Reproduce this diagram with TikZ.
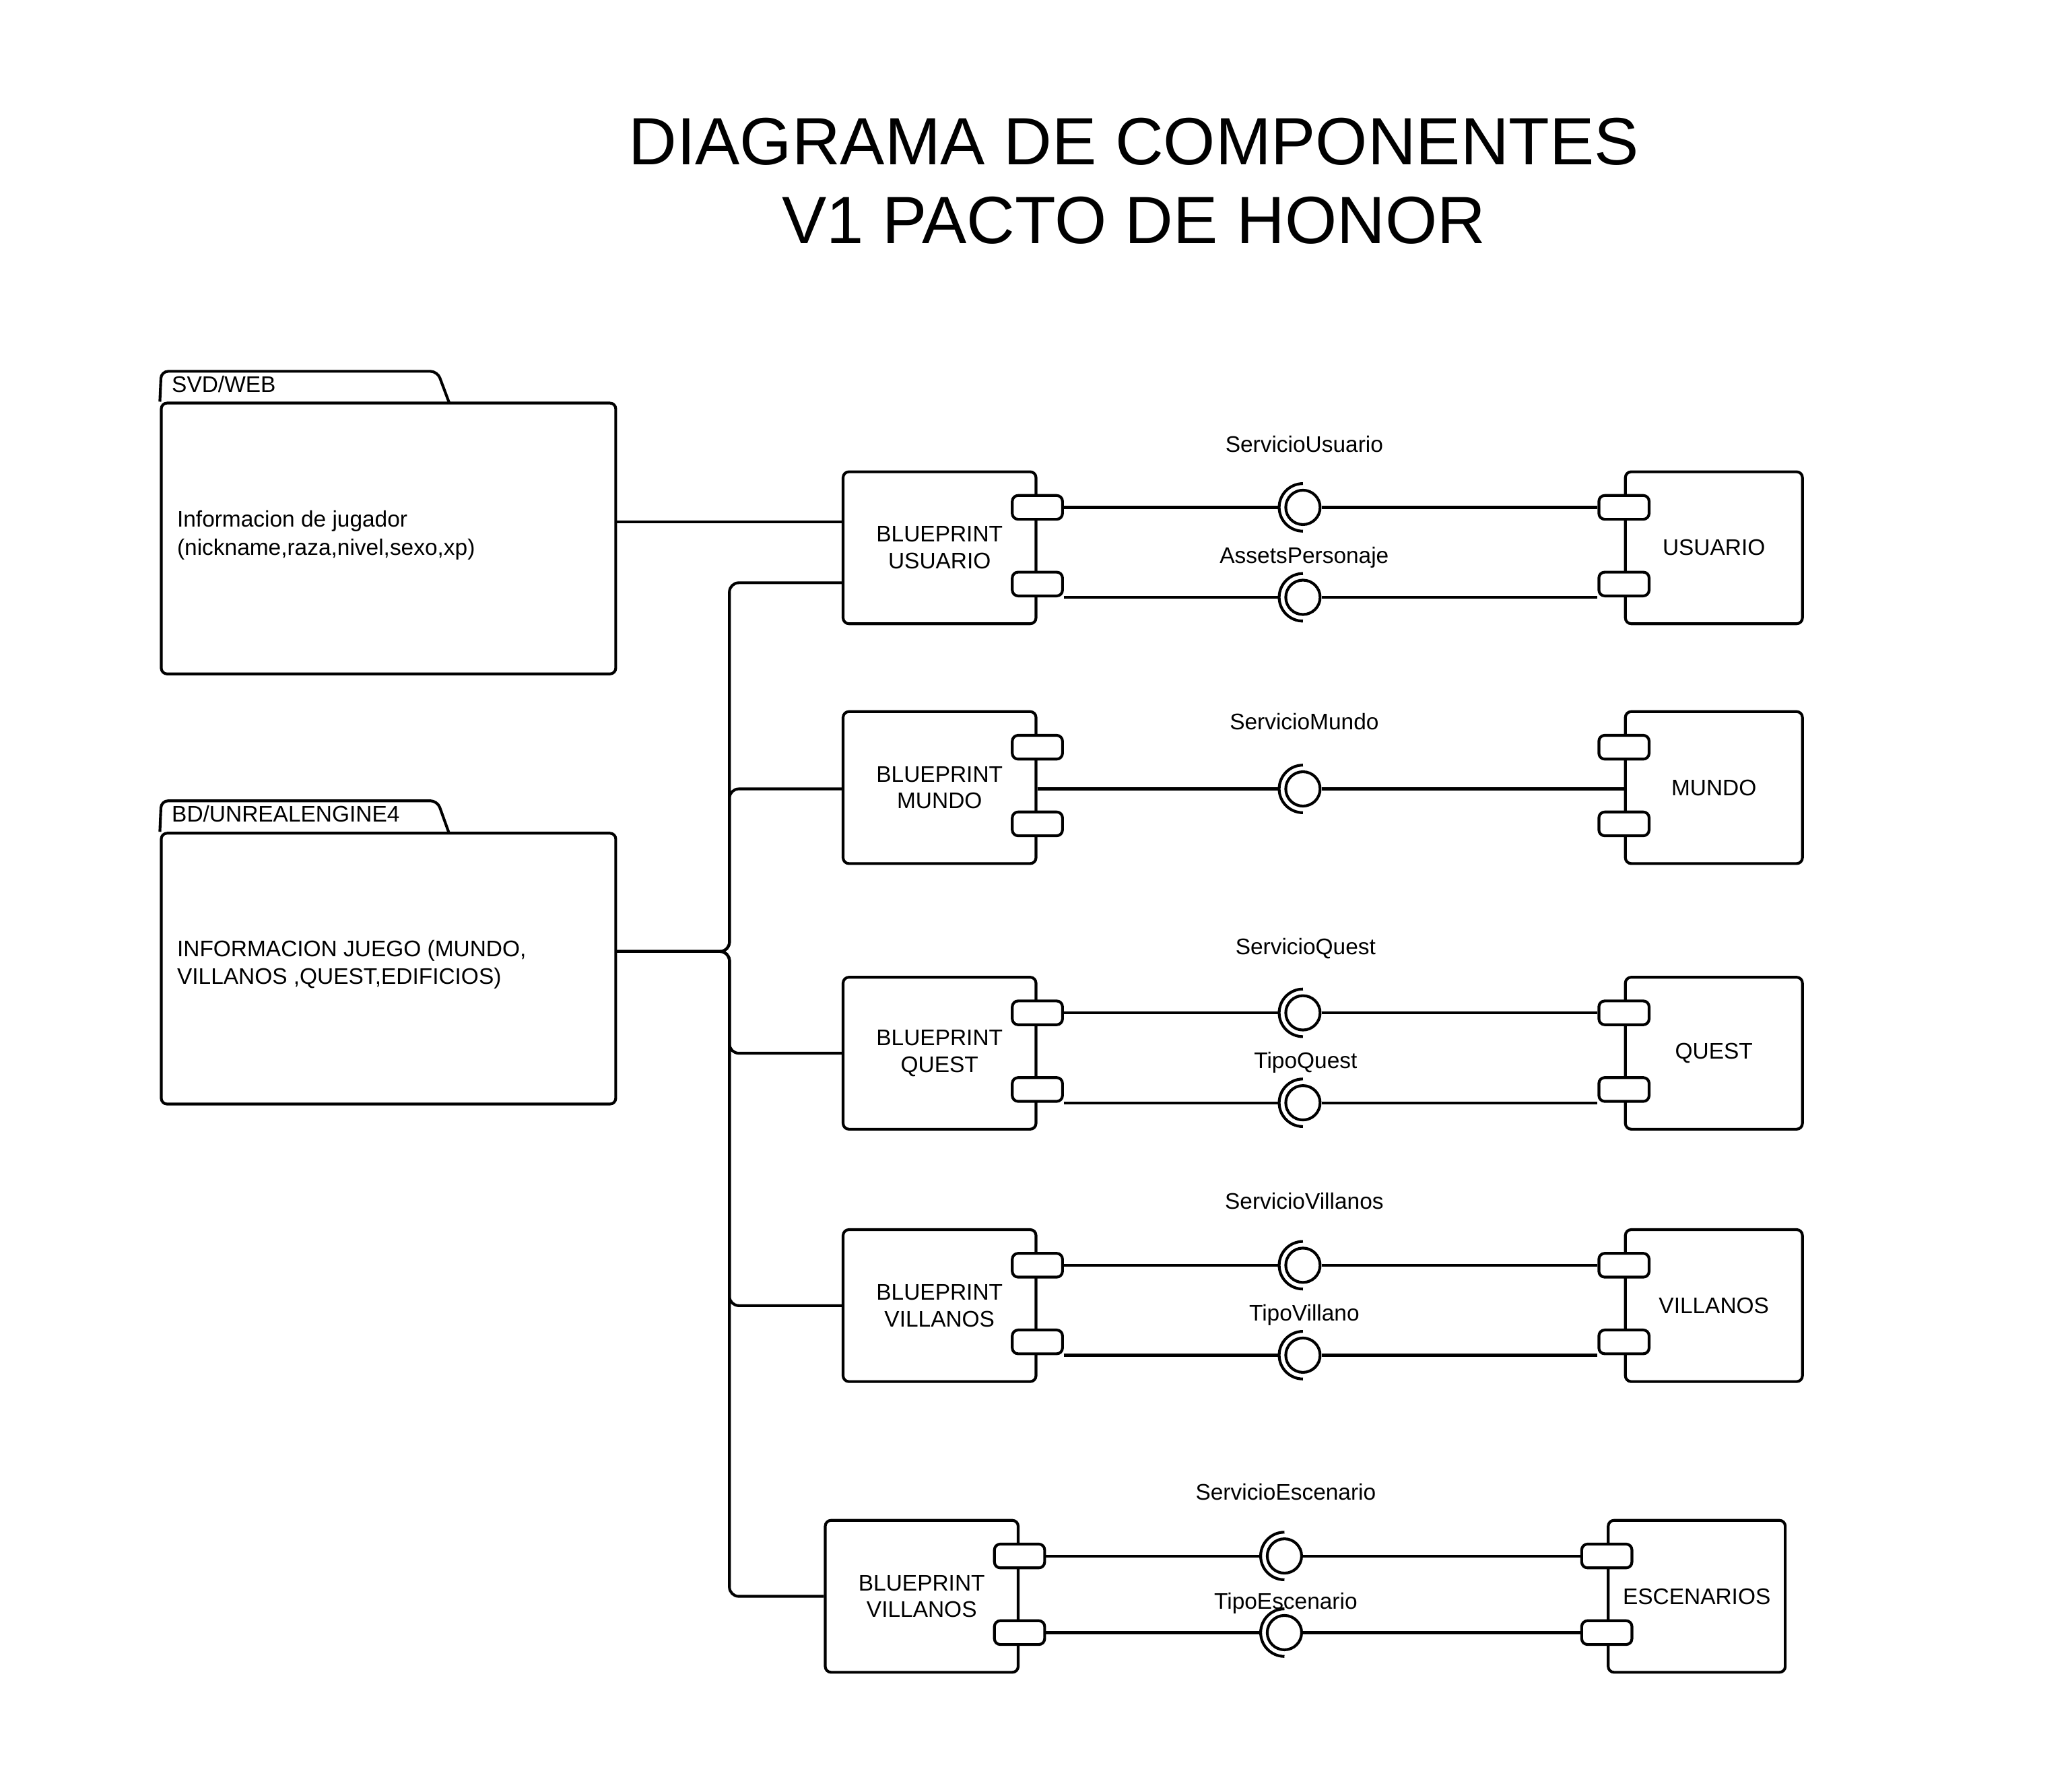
\documentclass[tikz,border=0pt]{standalone}
\usepackage{fontspec}
\setmainfont{Liberation Sans}
\usetikzlibrary{calc}
\begin{document}
\begin{tikzpicture}[x=0.02cm,y=-0.02cm,
  line width=1.2pt, line join=round,
  lbl/.style={font=\fontsize{9.7}{12}\selectfont, inner sep=0pt},
  pkgbody/.style={draw, rounded corners=2.5pt, minimum width=6.88cm, minimum height=4.1cm, inner sep=0pt},
  comp/.style={draw, rounded corners=2.5pt, minimum height=2.3cm, inner sep=0pt, align=center, font=\fontsize{9.7}{11.5}\selectfont},
  bp/.style={comp, minimum width=2.92cm},
  tgt/.style={comp, minimum width=2.68cm},
  port/.style={draw, fill=white, rounded corners=2.5pt, minimum width=0.76cm, minimum height=0.36cm, inner sep=0pt},
  ball/.style={draw, circle, minimum size=0.52cm, inner sep=0pt},
  sock/.style={line width=1.2pt},
  conn/.style={line width=1.2pt},
  tree/.style={line width=1.2pt, rounded corners=4pt},
]
\useasboundingbox (0,0) rectangle (1568,1337);

% title
\node[font=\fontsize{28.8}{34}\selectfont] (t1) at (858,107) {DIAGRAMA DE COMPONENTES};
\node[font=\fontsize{28.8}{34}\selectfont] (t2) at (858,167) {V1 PACTO DE HONOR};

% packages
\node[pkgbody] (pkg1) at (294,407.5) {};
\draw[rounded corners=3pt] (pkg1.north west) -- (122,281) -- (331,281) -- (340,305);
\node[lbl, anchor=west] (pkg1tab) at (129,291) {SVD/WEB};
\node[lbl, anchor=west, align=left] (pkg1txt) at (133,405) {Informacion de jugador\\(nickname,raza,nivel,sexo,xp)};

\node[pkgbody] (pkg2) at (294,733) {};
\draw[rounded corners=3pt] (pkg2.north west) -- (122,606) -- (331,606) -- (340,631);
\node[lbl, anchor=west] (pkg2tab) at (129,616) {BD/UNREALENGINE4};
\node[lbl, anchor=west, align=left] (pkg2txt) at (133,730) {INFORMACION JUEGO (MUNDO,\\VILLANOS ,QUEST,EDIFICIOS)};

% components
\node[bp] (bpU) at (711,414.5) {BLUEPRINT\\USUARIO};
\node[tgt] (cU) at (1297,414.5) {USUARIO};
\node[bp] (bpM) at (711,596) {BLUEPRINT\\MUNDO};
\node[tgt] (cM) at (1297,596) {MUNDO};
\node[bp] (bpQ) at (711,797) {BLUEPRINT\\QUEST};
\node[tgt] (cQ) at (1297,797) {QUEST};
\node[bp] (bpV) at (711,988) {BLUEPRINT\\VILLANOS};
\node[tgt] (cV) at (1297,988) {VILLANOS};
\node[bp] (bpE) at (697.5,1208) {BLUEPRINT\\VILLANOS};
\node[tgt] (cE) at (1284,1208) {ESCENARIOS};

% left connectors
\draw[conn] (pkg1.east |- 0,395) -- (bpU.west |- 0,395);
\draw[tree] (pkg2.east |- 0,720) -- (552,720) |- (bpU.west |- 0,441);
\draw[tree] (pkg2.east |- 0,720) -- (552,720) |- (bpM.west |- 0,597);
\draw[tree] (pkg2.east |- 0,720) -- (552,720) |- (bpQ.west);
\draw[tree] (pkg2.east |- 0,720) -- (552,720) |- (bpV.west);
\draw[tree] (pkg2.east |- 0,720) -- (552,720) |- (bpE.west);

% ports
\foreach \b/\c in {U/bpU,M/bpM,Q/bpQ,V/bpV,E/bpE}{
  \node[port] (p\b1) at ($(\c.north east)+(0,28)$) {};
  \node[port] (p\b2) at ($(\c.north east)+(0,86)$) {};
}
\foreach \b/\c in {U/cU,M/cM,Q/cQ,V/cV,E/cE}{
  \node[port] (q\b1) at ($(\c.north west)+(0,28)$) {};
  \node[port] (q\b2) at ($(\c.north west)+(0,86)$) {};
}

% lollipops
\node[ball] (lU1) at (pU1 -| 986,0) {};
\node[ball] (lU2) at (pU2.south -| 986,0) {};
\node[ball] (lM)  at (0,597 -| 986,0) {};
\node[ball] (lQ1) at (pQ1 -| 986,0) {};
\node[ball] (lQ2) at (pQ2.south -| 986,0) {};
\node[ball] (lV1) at (pV1 -| 986,0) {};
\node[ball] (lV2) at (pV2.south -| 986,0) {};
\node[ball] (lE1) at (pE1 -| 972,0) {};
\node[ball] (lE2) at (pE2 -| 972,0) {};
\foreach \l in {lU1,lU2,lM,lQ1,lQ2,lV1,lV2,lE1,lE2}{
  \draw[sock] ([yshift=0.36cm]\l.center) arc[start angle=90,end angle=270,radius=0.36cm];
  \coordinate (s\l) at ([xshift=-0.36cm]\l.center);
}

% interface connectors
\draw[conn] (pU1.east) -- (slU1);
\draw[conn] (lU1.east) -- (qU1.west);
\draw[conn] (pU2.south east) -- (slU2);
\draw[conn] (lU2.east) -- (qU2.south west);

\draw[conn] (bpM.east |- lM) -- (slM);
\draw[conn] (lM.east) -- (cM.west |- lM);

\draw[conn] (pQ1.east) -- (slQ1);
\draw[conn] (lQ1.east) -- (qQ1.west);
\draw[conn] (pQ2.south east) -- (slQ2);
\draw[conn] (lQ2.east) -- (qQ2.south west);

\draw[conn] (pV1.east) -- (slV1);
\draw[conn] (lV1.east) -- (qV1.west);
\draw[conn] (pV2.south east) -- (slV2);
\draw[conn] (lV2.east) -- (qV2.south west);

\draw[conn] (pE1.east) -- (slE1);
\draw[conn] (lE1.east) -- (qE1.west);
\draw[conn] (pE2.east) -- (slE2);
\draw[conn] (lE2.east) -- (qE2.west);

% interface labels
\node[lbl] (nU1) at (987,336) {ServicioUsuario};
\node[lbl] (nU2) at (987,422) {AssetsPersonaje};
\node[lbl] (nM)  at (987,546) {ServicioMundo};
\node[lbl] (nQ1) at (988,718) {ServicioQuest};
\node[lbl] (nQ2) at (988,804) {TipoQuest};
\node[lbl] (nV1) at (987,909) {ServicioVillanos};
\node[lbl] (nV2) at (987,995) {TipoVillano};
\node[lbl] (nE1) at (973,1129) {ServicioEscenario};
\node[lbl] (nE2) at (973,1213) {TipoEscenario};
\end{tikzpicture}
\end{document}
